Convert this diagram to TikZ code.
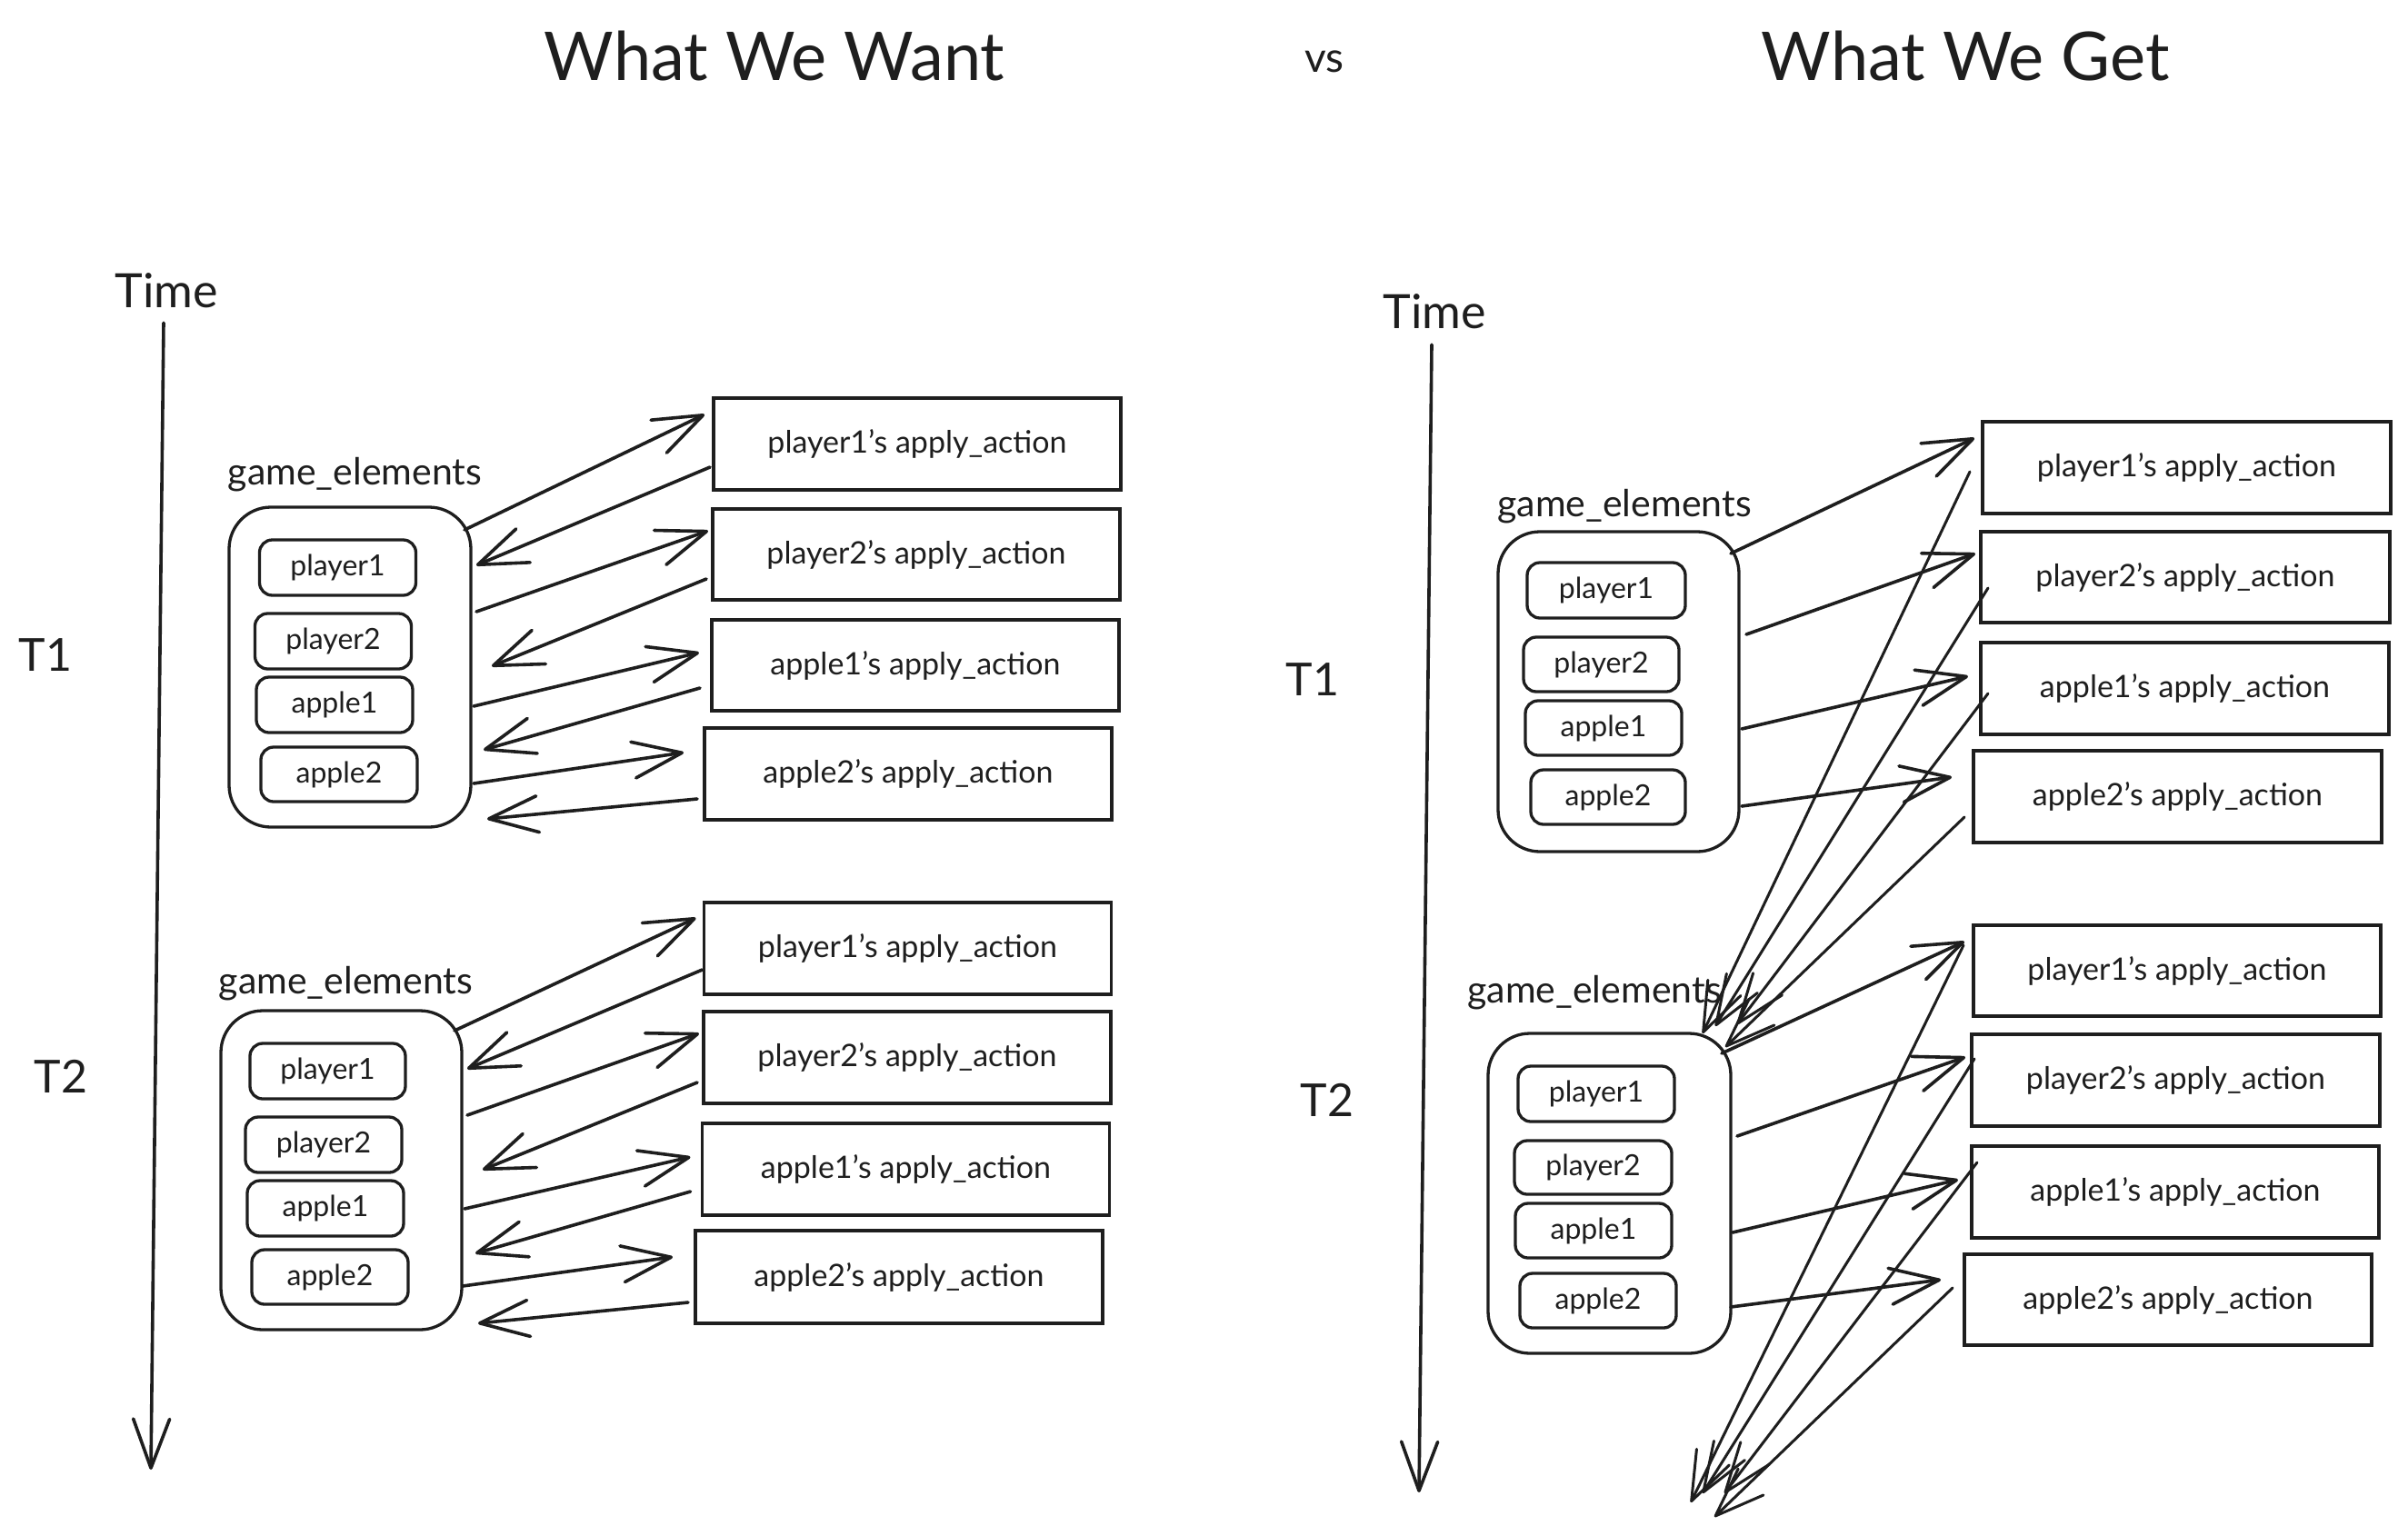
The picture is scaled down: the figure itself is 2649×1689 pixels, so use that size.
\documentclass[tikz,border=0pt]{standalone}
\usepackage{fontspec}
\setmainfont{Lato}
\usetikzlibrary{arrows.meta,calc}
\definecolor{ink}{HTML}{1E1E1E}
\begin{document}
\begin{tikzpicture}[x=1pt,y=-1pt,
  every node/.style={inner sep=0pt, outer sep=0pt, text=ink},
  ln/.style={line width=3.6pt, line cap=round, line join=round, draw=ink},
  arr/.style={ln, -{Straight Barb[length=54pt,width=40pt,round]}},
  arrthin/.style={arr, line width=3pt},
  actbox/.style={draw=ink, line width=3.3pt, minimum width=448pt, minimum height=101pt, font=\fontsize{34}{40}\selectfont},
  grp/.style={draw=ink, line width=3.3pt, rounded corners=46pt, minimum width=266pt, minimum height=352pt},
  item/.style={draw=ink, line width=3.3pt, rounded corners=14pt, minimum width=172pt, minimum height=61pt, font=\fontsize{32}{38}\selectfont},
  glbl/.style={anchor=base, font=\fontsize{41}{48}\selectfont},
  timel/.style={font=\fontsize{52}{60}\selectfont},
  tlbl/.style={font=\fontsize{50}{56}\selectfont},
  ttl/.style={font=\fontsize{74}{80}\selectfont}
]
\fill[white] (0,0) rectangle (2649,1689);
\useasboundingbox (0,0) rectangle (2649,1689);

% titles
\node[ttl] (tWant) at (852,62) {What We Want};
\node[font=\fontsize{46}{50}\selectfont] (tVs) at (1457,68) {vs};
\node[ttl] (tGet) at (2162,62) {What We Get};

% time axes
\node[timel] (timeL) at (183,320) {Time};
\node[timel] (timeR) at (1578,343) {Time};
\coordinate (timeLend) at (166,1617);
\coordinate (timeRend) at (1561,1642);
\draw[arr] ($(timeL.south)+(-3,16)$) -- (timeLend);
\draw[arr] ($(timeR.south)+(-3,17)$) -- (timeRend);

\node[tlbl] (T1L) at (50,721) {T1};
\node[tlbl] (T2L) at (67,1184) {T2};
\node[tlbl] (T1R) at (1444,748) {T1};
\node[tlbl] (T2R) at (1460,1210) {T2};

% ================= LEFT T1
\node[glbl] (LGaL) at (390.5,533) {game\_elements};
\node[grp] (LGa) at (385,734) {};
\node[item] (La1) at (371.5,624.5) {player1};
\node[item] (La2) at (366.5,705.5) {player2};
\node[item] (La3) at (368,775.5) {apple1};
\node[item, minimum height=60pt] (La4) at (373,852) {apple2};
\node[actbox] (LA1) at (1009,488.5) {player1's apply\_action};
\node[actbox, minimum height=100pt] (LA2) at (1008,610) {player2's apply\_action};
\node[actbox, minimum height=100pt] (LA3) at (1007,732) {apple1's apply\_action};
\node[actbox] (LA4) at (999,851.5) {apple2's apply\_action};

\draw[arr] ($(LGa.east)+(-7,-151)$) -- ($(LA1.west)+(-10,-32.5)$);
\draw[arr] ($(LA1.west)+(-4,25.5)$) -- ($(LGa.east)+(6,-112)$);
\draw[arr] ($(LGa.east)+(6,-61)$) -- ($(LA2.west)+(-5,-26)$);
\draw[arr] ($(LA2.west)+(-7,27)$) -- ($(LGa.east)+(23,-1)$);
\draw[arr] ($(LGa.east)+(3,43)$) -- ($(LA3.west)+(-14,-14)$);
\draw[arr] ($(LA3.west)+(-13,25)$) -- ($(LGa.east)+(14,91)$);
\draw[arr] ($(LGa.east)+(3,128)$) -- ($(LA4.west)+(-23,-23.5)$);
\draw[arr] ($(LA4.west)+(-8,27.5)$) -- ($(LGa.east)+(18,167)$);

% ================= LEFT T2
\node[glbl] (LGbL) at (380.5,1093) {game\_elements};
\node[grp, minimum width=265pt, minimum height=351pt] (LGb) at (375.5,1287.5) {};
\node[item, minimum width=171pt] (Lb1) at (360.5,1178.5) {player1};
\node[item] (Lb2) at (356,1259.5) {player2};
\node[item] (Lb3) at (358,1329.5) {apple1};
\node[item, minimum height=60pt] (Lb4) at (363,1405) {apple2};
\node[actbox] (LB1) at (998.5,1043.5) {player1's apply\_action};
\node[actbox] (LB2) at (998,1163.5) {player2's apply\_action};
\node[actbox] (LB3) at (996.5,1286.5) {apple1's apply\_action};
\node[actbox, minimum height=102pt] (LB4) at (989,1405) {apple2's apply\_action};

\draw[arr] ($(LGb.east)+(-8,-153.5)$) -- ($(LB1.west)+(-9,-33.5)$);
\draw[arr] ($(LB1.west)+(-2,23.5)$) -- ($(LGb.east)+(6,-111.5)$);
\draw[arr] ($(LGb.east)+(6,-60.5)$) -- ($(LB2.west)+(-5,-26.5)$);
\draw[arr] ($(LB2.west)+(-7,27.5)$) -- ($(LGb.east)+(23,-0.5)$);
\draw[arr] ($(LGb.east)+(3,42.5)$) -- ($(LB3.west)+(-13,-13.5)$);
\draw[arr] ($(LB3.west)+(-13,24.5)$) -- ($(LGb.east)+(15,91.5)$);
\draw[arr] ($(LGb.east)+(1,127.5)$) -- ($(LB4.west)+(-25,-22)$);
\draw[arr] ($(LB4.west)+(-8,28)$) -- ($(LGb.east)+(18,168.5)$);

% ================= RIGHT T1
\node[glbl] (RGaL) at (1787,568) {game\_elements};
\node[grp, minimum width=265pt] (RGa) at (1780.5,761) {};
\node[item, minimum width=174pt] (Ra1) at (1767,649.5) {player1};
\node[item, minimum width=171pt, minimum height=60pt] (Ra2) at (1761.5,731) {player2};
\node[item, minimum height=60pt] (Ra3) at (1764,801) {apple1};
\node[item, minimum width=170pt, minimum height=60pt] (Ra4) at (1769,877) {apple2};
\node[actbox, minimum width=449pt] (RA1) at (2405.5,514.5) {player1's apply\_action};
\node[actbox, minimum width=450pt, minimum height=100pt] (RA2) at (2404,635) {player2's apply\_action};
\node[actbox, minimum width=449pt] (RA3) at (2403.5,757.5) {apple1's apply\_action};
\node[actbox, minimum width=449pt] (RA4) at (2395.5,876.5) {apple2's apply\_action};

% ================= RIGHT T2
\node[glbl] (RGbL) at (1754,1103) {game\_elements};
\node[grp, minimum width=267pt] (RGb) at (1770.5,1313) {};
\node[item] (Rb1) at (1756,1203.5) {player1};
\node[item, minimum width=173pt, minimum height=59pt] (Rb2) at (1752.5,1284.5) {player2};
\node[item, minimum height=60pt] (Rb3) at (1753,1354) {apple1};
\node[item, minimum height=60pt] (Rb4) at (1758,1431) {apple2};
\node[actbox, minimum height=100pt] (RB1) at (2395,1068) {player1's apply\_action};
\node[actbox, minimum width=449pt] (RB2) at (2393.5,1188.5) {player2's apply\_action};
\node[actbox] (RB3) at (2393,1311.5) {apple1's apply\_action};
\node[actbox, minimum height=100pt] (RB4) at (2385,1430) {apple2's apply\_action};

\draw[arr] ($(RGa.east)+(-9,-152)$) -- ($(RA1.west)+(-9,-32.5)$);
\draw[arr] ($(RGa.east)+(8,-63)$) -- ($(RA2.west)+(-6,-26)$);
\draw[arr] ($(RGa.east)+(3,41)$) -- ($(RA3.west)+(-14,-13.5)$);
\draw[arr] ($(RGa.east)+(3,126)$) -- ($(RA4.west)+(-24,-21.5)$);

\draw[arrthin] ($(RA1.west)+(-14,4.5)$) -- ($(RGb.north east)+(-31,0)$);
\draw[arrthin] ($(RA2.west)+(8,12)$) -- ($(RGb.north east)+(-17,-8)$);
\draw[arrthin] ($(RA3.west)+(8,5.5)$) -- ($(RGb.north east)+(7,-10)$);
\draw[arrthin] ($(RA4.west)+(-10,22.5)$) -- ($(RGb.north east)+(-6,15)$);

\draw[arr] ($(RGb.east)+(-10,-154)$) -- ($(RB1.west)+(-10,-32)$);
\draw[arr] ($(RGb.east)+(7,-63)$) -- ($(RB2.west)+(-7,-25.5)$);
\draw[arr] ($(RGb.east)+(2,43)$) -- ($(RB3.west)+(-15,-13.5)$);
\draw[arr] ($(RGb.east)+(0,125)$) -- ($(RB4.west)+(-26,-22)$);

\coordinate (d1) at (1860,1653);
\coordinate (d2) at (1873,1643);
\coordinate (d3) at (1897,1643);
\coordinate (d4) at (1886,1669);
\draw[arrthin] ($(RB1.west)+(-11,-28)$) -- (d1);
\draw[arrthin] ($(RB2.west)+(3,-23.5)$) -- (d2);
\draw[arrthin] ($(RB3.west)+(6,-32.5)$) -- (d3);
\draw[arrthin] ($(RB4.west)+(-13,-13)$) -- (d4);
\end{tikzpicture}
\end{document}
